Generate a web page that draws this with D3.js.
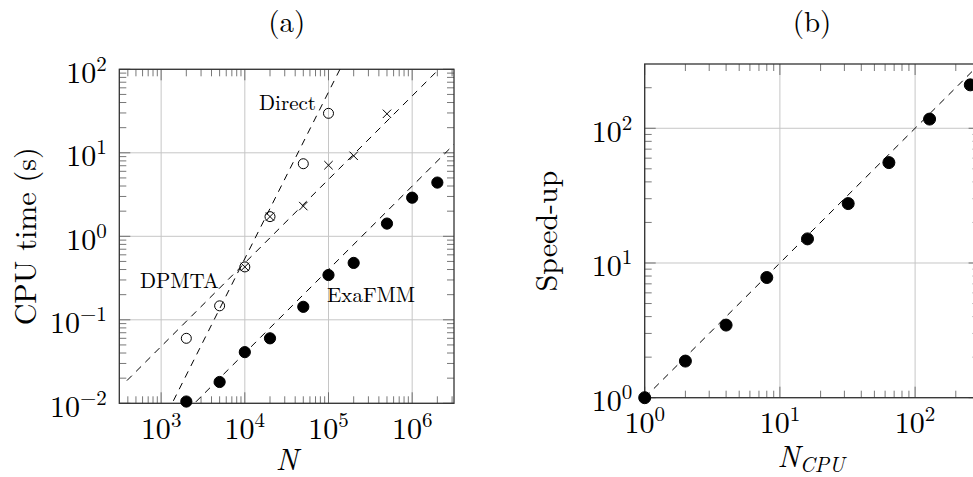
<!DOCTYPE html>
<html>
<head>
<meta charset="utf-8">
<script src="https://cdn.jsdelivr.net/npm/d3@7"></script>
<style>
  body { margin: 0; background: #fff; }
</style>
</head>
<body>
<svg width="973" height="477"></svg>
<script>
// ---- datos panel (a): tiempo de CPU frente a N ----
const nExa = [2000, 5000, 1e4, 2e4, 5e4, 1e5, 2e5, 5e5, 1e6, 2e6];
const tExa = [0.0105, 0.018, 0.041, 0.060, 0.143, 0.344, 0.48, 1.42, 2.9, 4.4];
const nDirect = [2000, 5000, 1e4, 2e4, 5e4, 1e5];
const tDirect = [0.060, 0.147, 0.43, 1.72, 7.4, 29.7];
const nDpmta = [1e4, 2e4, 5e4, 1e5, 2e5, 5e5];
const tDpmta = [0.43, 1.72, 2.3, 7.1, 9.2, 29.3];
// rectas de referencia (extremos)
const lineaDirect = [[1400, 0.0107], [1.37e5, 100]];
const lineaDpmta = [[390, 0.0187], [2.0e6, 96]];
const lineaExa = [[2600, 0.0104], [3.16e6, 12.6]];
const expAx = [3, 4, 5, 6];
const expAy = [-2, -1, 0, 1, 2];

// ---- datos panel (b): speed-up ----
const nCpu = [1, 2, 4, 8, 16, 32, 64, 128, 256];
const speedup = [1, 1.87, 3.46, 7.8, 15.1, 27.6, 55.6, 117, 210];
const lineaIdeal = [[1, 1], [300, 300]];
const expBx = [0, 1, 2];
const expBy = [0, 1, 2];

const fuente = "Latin Modern Roman";
const svg = d3.select("svg");

// ticks menores 2..9 de cada decada dentro del dominio
function menores(dom) {
  const out = [];
  const d0 = Math.floor(Math.log10(dom[0])), d1 = Math.ceil(Math.log10(dom[1]));
  for (let d = d0; d <= d1; d++) {
    for (let k = 2; k <= 9; k++) {
      const v = k * Math.pow(10, d);
      if (v > dom[0] * 1.0001 && v < dom[1] * 0.9999) out.push(v);
    }
  }
  return out;
}

function texto(g, x, y, tam) {
  return g.append("text").attr("x", x).attr("y", y)
    .attr("font-family", fuente).attr("font-size", tam).attr("fill", "#000");
}

function potencia(g, x, y, e, anchor) {
  const t = texto(g, x, y, 30).attr("text-anchor", anchor);
  t.append("tspan").text("10");
  t.append("tspan").attr("dy", -12).attr("font-size", 21)
    .text(e < 0 ? "\u2212" + (-e) : e);
}

function panel(cfg) {
  const x = d3.scaleLog().domain(cfg.dx).range([cfg.x0, cfg.x1]);
  const y = d3.scaleLog().domain(cfg.dy).range([cfg.y0, cfg.y1]);
  const g = svg.append("g");
  const mayX = cfg.ex.map(e => Math.pow(10, e));
  const mayY = cfg.ey.map(e => Math.pow(10, e));

  g.append("clipPath").attr("id", cfg.id)
    .append("rect")
    .attr("x", cfg.x0).attr("y", cfg.y1)
    .attr("width", cfg.x1 - cfg.x0).attr("height", cfg.y0 - cfg.y1);

  // rejilla
  g.selectAll(".gx").data(mayX).enter().append("line")
    .attr("x1", d => x(d)).attr("x2", d => x(d))
    .attr("y1", cfg.y0).attr("y2", cfg.y1)
    .attr("stroke", "#c6c6c6").attr("stroke-width", 1);
  g.selectAll(".gy").data(mayY).enter().append("line")
    .attr("y1", d => y(d)).attr("y2", d => y(d))
    .attr("x1", cfg.x0).attr("x2", cfg.x1)
    .attr("stroke", "#c6c6c6").attr("stroke-width", 1);

  // ticks en los cuatro lados, hacia dentro
  const tk = g.append("g").attr("stroke", "#555").attr("stroke-width", 0.8);
  const ladoX = (vals, len) => {
    vals.forEach(v => {
      tk.append("line").attr("x1", x(v)).attr("x2", x(v)).attr("y1", cfg.y0).attr("y2", cfg.y0 - len);
      tk.append("line").attr("x1", x(v)).attr("x2", x(v)).attr("y1", cfg.y1).attr("y2", cfg.y1 + len);
    });
  };
  const ladoY = (vals, len) => {
    vals.forEach(v => {
      tk.append("line").attr("y1", y(v)).attr("y2", y(v)).attr("x1", cfg.x0).attr("x2", cfg.x0 + len);
      tk.append("line").attr("y1", y(v)).attr("y2", y(v)).attr("x1", cfg.x1).attr("x2", cfg.x1 - len);
    });
  };
  ladoX(menores(cfg.dx), 7);
  ladoY(menores(cfg.dy), 7);
  ladoX(mayX, 11);
  ladoY(mayY, 11);

  // marco
  g.append("rect")
    .attr("x", cfg.x0).attr("y", cfg.y1)
    .attr("width", cfg.x1 - cfg.x0).attr("height", cfg.y0 - cfg.y1)
    .attr("fill", "none").attr("stroke", "#333").attr("stroke-width", 1.3);

  // etiquetas de los ticks
  cfg.ex.forEach(e => potencia(g, x(Math.pow(10, e)), cfg.y0 + 35.5, e, "middle"));
  cfg.ey.forEach(e => potencia(g, cfg.x0 - 12.5, y(Math.pow(10, e)) + 13.5, e, "end"));

  return { g, x, y, id: cfg.id };
}

function recta(p, datos) {
  p.g.append("path")
    .attr("d", d3.line().x(d => p.x(d[0])).y(d => p.y(d[1]))(datos))
    .attr("clip-path", "url(#" + p.id + ")")
    .attr("fill", "none").attr("stroke", "#000").attr("stroke-width", 1)
    .attr("stroke-dasharray", "7,6");
}

function circulos(p, xs, ys, lleno, r) {
  p.g.selectAll(null).data(xs).enter().append("circle")
    .attr("cx", d => p.x(d))
    .attr("cy", (d, i) => p.y(ys[i]))
    .attr("r", r)
    .attr("fill", lleno ? "#000" : "none")
    .attr("stroke", "#000").attr("stroke-width", 1);
}

function cruces(p, xs, ys) {
  const s = 4.2;
  p.g.selectAll(null).data(xs).enter().append("path")
    .attr("d", (d, i) => {
      const cx = p.x(d), cy = p.y(ys[i]);
      return `M${cx - s},${cy - s}L${cx + s},${cy + s}M${cx - s},${cy + s}L${cx + s},${cy - s}`;
    })
    .attr("stroke", "#000").attr("stroke-width", 1).attr("fill", "none");
}

// ---- panel (a) ----
const pa = panel({
  id: "clipA", dx: [Math.pow(10, 2.5), Math.pow(10, 6.5)], dy: [0.01, 100],
  x0: 119.3, x1: 454, y0: 403.3, y1: 69.3, ex: expAx, ey: expAy
});
recta(pa, lineaDirect);
recta(pa, lineaDpmta);
recta(pa, lineaExa);
circulos(pa, nDirect, tDirect, false, 5);
cruces(pa, nDpmta, tDpmta);
circulos(pa, nExa, tExa, true, 5.6);

texto(pa.g, 316, 110, 21).attr("text-anchor", "end").text("Direct");
texto(pa.g, 140, 287.5, 21).text("DPMTA");
texto(pa.g, 327, 301.5, 21).text("ExaFMM");

texto(svg, 286.7, 32, 29).attr("text-anchor", "middle").text("(a)");
texto(svg, 0, 0, 30).attr("transform", "translate(36,236.3) rotate(-90)")
  .attr("text-anchor", "middle").text("CPU time (s)");
texto(svg, 287, 469.5, 30).attr("text-anchor", "middle")
  .attr("font-style", "italic").text("N");

// ---- panel (b) ----
const pb = panel({
  id: "clipB", dx: [1, 300], dy: [1, 300],
  x0: 644.7, x1: 979.6, y0: 397.7, y1: 64, ex: expBx, ey: expBy
});
recta(pb, lineaIdeal);
circulos(pb, nCpu, speedup, true, 6);

texto(svg, 812, 32, 29).attr("text-anchor", "middle").text("(b)");
texto(svg, 0, 0, 30).attr("transform", "translate(557,231) rotate(-90)")
  .attr("text-anchor", "middle").text("Speed-up");
const etN = texto(svg, 811, 467, 30).attr("text-anchor", "middle")
  .attr("font-style", "italic");
etN.append("tspan").text("N");
etN.append("tspan").attr("dy", 5).attr("font-size", 21).text("CPU");
</script>
</body>
</html>
